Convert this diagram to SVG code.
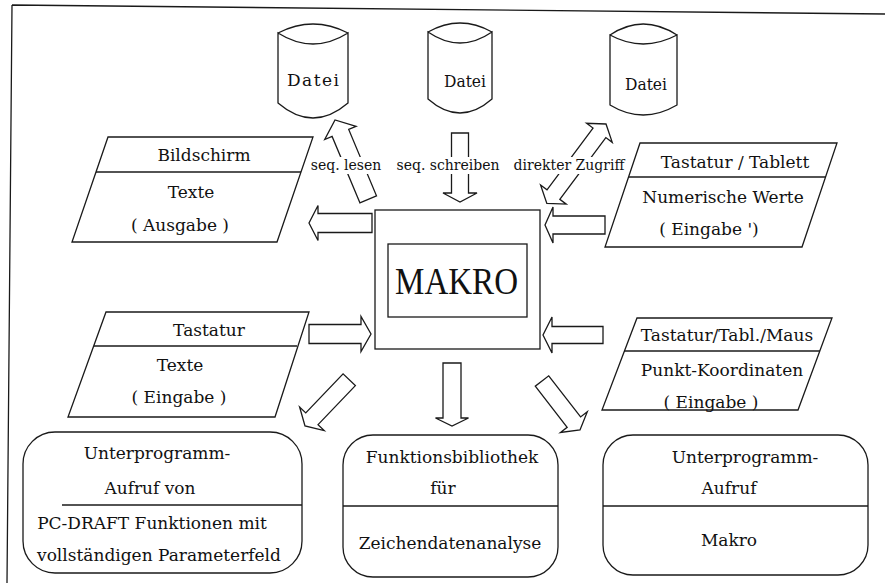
<svg xmlns="http://www.w3.org/2000/svg" width="885" height="583" viewBox="0 0 885 583">
<style>
.s{fill:none;stroke:#1a1a1a;stroke-width:1.3;stroke-linejoin:miter}
.w{fill:#fff;stroke:#1a1a1a;stroke-width:1.3}
.t{font-family:"DejaVu Serif","Liberation Serif",serif;font-size:17px;fill:#111;text-anchor:middle}
.l{font-family:"DejaVu Serif","Liberation Serif",serif;font-size:14px;fill:#111;text-anchor:middle}
.bg{fill:#fff;stroke:none}
</style>
<rect width="885" height="583" fill="#fff"/>
<g id="frame">
<path class="s" d="M12,5 L885,14 M12,5 L7,583"/>
</g>

<g id="connectors">
<polygon class="w" transform="translate(335,120) rotate(-112.7)" points="-86,-9 -14,-9 -14,-17 0,0 -14,17 -14,9 -86,9"/>
<polygon class="w" transform="translate(460,202) rotate(90)" points="-69,-8.5 -9,-8.5 -9,-17 0,0 -9,17 -9,8.5 -69,8.5"/>
<polygon class="w" transform="translate(606,124) rotate(-53.3)" points="0,0 -11,-16 -11,-8 -88,-8 -88,-16 -99,0 -88,16 -88,8 -11,8 -11,16"/>
<polygon class="w" transform="translate(309,223) rotate(180)" points="-63,-9.5 -9,-9.5 -9,-17.5 0,0 -9,17.5 -9,9.5 -63,9.5"/>
<polygon class="w" transform="translate(371,334)" points="-62,-9.5 -10,-9.5 -10,-17.5 0,0 -10,17.5 -10,9.5 -62,9.5"/>
<polygon class="w" transform="translate(545,225) rotate(180)" points="-60,-9 -8,-9 -8,-18 0,0 -8,18 -8,9 -60,9"/>
<polygon class="w" transform="translate(543,335) rotate(180)" points="-60,-8.5 -9,-8.5 -9,-18 0,0 -9,18 -9,8.5 -60,8.5"/>
<polygon class="w" transform="translate(452,426) rotate(90)" points="-63,-9 -8,-9 -8,-16.5 0,0 -8,16.5 -8,9 -63,9"/>
<polygon class="w" transform="translate(305,426) rotate(133.7)" points="-64,-8.5 -10,-8.5 -10,-17 0,0 -10,17 -10,8.5 -64,8.5"/>
<polygon class="w" transform="translate(580,430) rotate(52.2)" points="-62,-8.5 -10,-8.5 -10,-17 0,0 -10,17 -10,8.5 -62,8.5"/>
<rect class="bg" x="311" y="157" width="72" height="17"/>
<text class="l" x="346" y="170">seq. lesen</text>
<rect class="bg" x="396" y="157" width="104" height="17"/>
<text class="l" x="448" y="170">seq. schreiben</text>
<rect class="bg" x="510" y="157" width="119" height="17"/>
<text class="l" x="569" y="170">direkter Zugriff</text>
</g>

<g id="datei1">
<path class="s" d="M278,33 Q313,15 348,33 M278,33 Q313,55 348,33 L348,103 Q313,133 278,103 Z"/>
<text class="t" x="313" y="86" font-size="18" textLength="52" lengthAdjust="spacing">Datei</text>
</g>
<g id="datei2">
<path class="s" d="M428,32 Q460,14 492,32 M428,32 Q460,54 492,32 L492,99 Q460,127 428,99 Z"/>
<text class="t" x="465" y="87" font-size="18" textLength="42" lengthAdjust="spacingAndGlyphs">Datei</text>
</g>
<g id="datei3">
<path class="s" d="M610,35 Q643,13 677,35 M610,35 Q643,53 677,35 L677,105 Q643,125 610,105 Z"/>
<text class="t" x="646" y="90" font-size="18" textLength="42" lengthAdjust="spacingAndGlyphs">Datei</text>
</g>

<g id="makro">
<rect class="s" x="375" y="210" width="165" height="139"/>
<rect class="s" x="388" y="244" width="139" height="73"/>
<text x="456.5" y="294" font-family="'Liberation Serif','DejaVu Serif',serif" font-size="38" text-anchor="middle" fill="#111" textLength="123" lengthAdjust="spacingAndGlyphs">MAKRO</text>
</g>

<g id="bildschirm">
<polygon class="s" points="108,137 313,137 277,242 72,242"/>
<line class="s" x1="96" y1="172" x2="301" y2="172"/>
<text class="t" x="204" y="161">Bildschirm</text>
<text class="t" x="191" y="198">Texte</text>
<text class="t" x="180" y="231">( Ausgabe )</text>
</g>

<g id="tastatur">
<polygon class="s" points="106,312 309,312 275,417 68,417"/>
<line class="s" x1="94" y1="346" x2="297" y2="346"/>
<text class="t" x="209" y="336">Tastatur</text>
<text class="t" x="180" y="371">Texte</text>
<text class="t" x="179" y="403">( Eingabe )</text>
</g>

<g id="tablett">
<polygon class="s" points="640,143 837,143 802,247 605,247"/>
<line class="s" x1="629" y1="177" x2="826" y2="177"/>
<text class="t" x="735" y="168">Tastatur / Tablett</text>
<text class="t" x="723" y="203">Numerische Werte</text>
<text class="t" x="709" y="235">( Eingabe ')</text>
</g>

<g id="maus">
<polygon class="s" points="637,318 832,318 798,410 602,410"/>
<line class="s" x1="624" y1="351" x2="820" y2="351"/>
<text class="t" x="727" y="341">Tastatur/Tabl./Maus</text>
<text class="t" x="722" y="376">Punkt-Koordinaten</text>
<text class="t" x="711" y="408">( Eingabe )</text>
</g>

<g id="unterprogramm-pc">
<rect class="s" x="23" y="432" width="279" height="141" rx="32" ry="32"/>
<line class="s" x1="62" y1="505" x2="302" y2="505"/>
<text class="t" x="157" y="459">Unterprogramm-</text>
<text class="t" x="150" y="494">Aufruf von</text>
<text class="t" x="152" y="529">PC-DRAFT Funktionen mit</text>
<text class="t" x="159" y="561">vollständigen Parameterfeld</text>
</g>

<g id="funktionsbibliothek">
<rect class="s" x="343" y="435" width="215" height="142" rx="30" ry="30"/>
<line class="s" x1="343" y1="506" x2="558" y2="506"/>
<text class="t" x="452" y="463">Funktionsbibliothek</text>
<text class="t" x="443" y="494">für</text>
<text class="t" x="450" y="549">Zeichendatenanalyse</text>
</g>

<g id="unterprogramm-makro">
<rect class="s" x="603" y="435" width="265" height="140" rx="30" ry="30"/>
<line class="s" x1="603" y1="506" x2="868" y2="506"/>
<text class="t" x="745" y="463">Unterprogramm-</text>
<text class="t" x="729" y="494">Aufruf</text>
<text class="t" x="729" y="546">Makro</text>
</g>
</svg>
